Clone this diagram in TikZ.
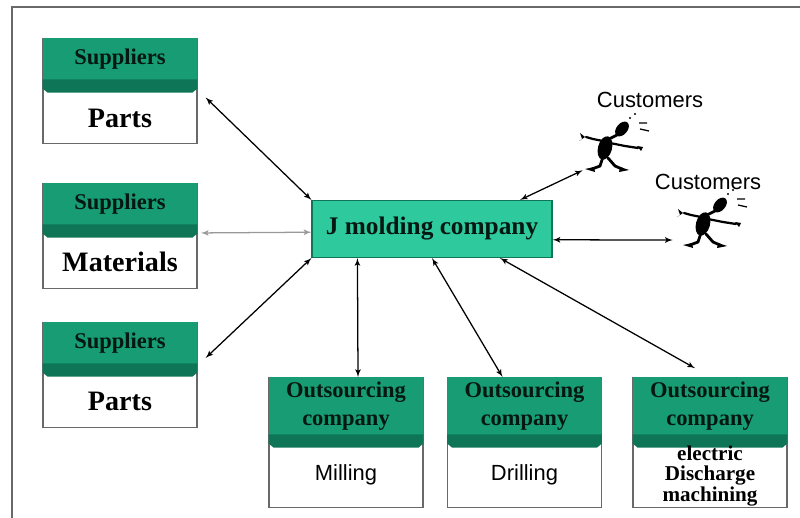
\documentclass[tikz,border=0pt]{standalone}
\usepackage{fontspec}
\setmainfont{Liberation Serif}
\setsansfont{Liberation Sans}
\usetikzlibrary{arrows,calc}

\definecolor{hdgreen}{RGB}{24,156,115}
\definecolor{bandgreen}{RGB}{14,118,86}
\definecolor{jgreen}{RGB}{46,202,158}
\definecolor{edgegray}{RGB}{105,105,105}

\tikzset{
  boxframe/.style={draw=edgegray, line width=0.9pt, fill=white, anchor=north, minimum width=3.85cm, inner sep=0pt},
  boxhead/.style={fill=hdgreen, anchor=north, minimum width=3.85cm, inner sep=0pt, align=center, text=black!85!hdgreen, font=\fontsize{16}{19.5}\selectfont\bfseries},
  bodytext/.style={align=center, font=\fontsize{20}{22}\selectfont\bfseries},
  sanstext/.style={font=\sffamily\fontsize{15.6}{18}\selectfont},
  link/.style={latex'-latex', line width=0.9pt},
  runner/.pic={
    \fill (15,-19) ellipse [x radius=5.5, y radius=8.5, rotate=-40];
    \fill (-2,0) ellipse [x radius=7, y radius=12, rotate=-15];
    \draw[line width=2pt, line cap=round] (2,-9) -- (10,-13);
    \draw[line width=1.6pt, line cap=round] (-4,-7) -- (-14,-9) -- (-21,-11);
    \fill (-22,-11) -- (-27,-15) -- (-25,-9) -- (-28,-7) -- cycle;
    \draw[line width=1.6pt, line cap=round] (3,-5) -- (18,-2) -- (31,0);
    \fill (30,-2) -- (36,-1) -- (34,3) -- cycle;
    \draw[line width=2pt, line cap=round] (-4,9) -- (-7,18) -- (-15,21);
    \fill (-13,19) -- (-22,21) -- (-12,24) -- cycle;
    \draw[line width=2pt, line cap=round] (1,10) -- (8,18) -- (15,21);
    \fill (13,19) -- (22,22) -- (12,24) -- cycle;
    \draw[line width=0.9pt] (32,-25) -- (40,-25) (33,-19) -- (42,-17);
    \fill (23,-30) circle [radius=1.2] (28,-34) circle [radius=1.2];
  }
}

% darker bevelled strip under a green header
\newcommand{\headband}[1]{%
  \fill[bandgreen] ([yshift=0.03cm]#1.south west) -- ([yshift=0.03cm]#1.south east)
    -- ([yshift=-0.2cm]#1.south east) -- ([shift={(-0.12cm,-0.3cm)}]#1.south east)
    -- ([shift={(0.12cm,-0.3cm)}]#1.south west) -- ([yshift=-0.2cm]#1.south west) -- cycle;}

\begin{document}
\begin{tikzpicture}[x=0.025cm, y=-0.025cm]
\useasboundingbox (0,0) rectangle (800,518);
\draw[edgegray, line width=1.2pt] (12,530) -- (12,7) -- (810,7);

% suppliers
\node[boxframe, minimum height=2.625cm] (s1) at (120,38) {};
\node[boxhead, minimum height=1.05cm] (s1h) at (120,38) {Suppliers};
\headband{s1h}
\node[bodytext] (s1t) at (120,118) {Parts};

\node[boxframe, minimum height=2.625cm] (s2) at (120,183) {};
\node[boxhead, minimum height=1.05cm] (s2h) at (120,183) {Suppliers};
\headband{s2h}
\node[bodytext] (s2t) at (120,262) {Materials};

\node[boxframe, minimum height=2.625cm] (s3) at (120,322) {};
\node[boxhead, minimum height=1.05cm] (s3h) at (120,322) {Suppliers};
\headband{s3h}
\node[bodytext] (s3t) at (120,401) {Parts};

% main company
\node[draw=bandgreen, line width=0.8pt, fill=jgreen, minimum width=6cm, minimum height=1.425cm,
      font=\fontsize{18}{20}\selectfont\bfseries, text=black!85!hdgreen] (J) at (432,229) {J molding company};

% outsourcing
\node[boxframe, minimum height=3.25cm] (o1) at (346,377) {};
\node[boxhead, minimum height=1.45cm] (o1h) at (346,377) {Outsourcing\\company};
\headband{o1h}
\node[sanstext] (o1t) at (346,475) {Milling};

\node[boxframe, minimum height=3.25cm] (o2) at (524.5,377) {};
\node[boxhead, minimum height=1.45cm] (o2h) at (524.5,377) {Outsourcing\\company};
\headband{o2h}
\node[sanstext] (o2t) at (524.5,475) {Drilling};

\node[boxframe, minimum height=3.25cm] (o3) at (710,377) {};
\node[boxhead, minimum height=1.45cm] (o3h) at (710,377) {Outsourcing\\company};
\headband{o3h}
\node[align=center, inner sep=0pt, font=\fontsize{15}{14.6}\selectfont\bfseries] (o3t) at (710,476) {electric\\Discharge\\machining};

% customers
\node[sanstext] (cl1) at (650,100) {Customers};
\node[minimum width=1.2cm, minimum height=1.1cm] (c1) at (607,148) {};
\pic at (c1) {runner};
\node[sanstext] (cl2) at (708,182) {Customers};
\node[minimum width=1.2cm, minimum height=1.1cm] (c2) at (705,224) {};
\pic at (c2) {runner};

% links
\draw[link] ([shift={(0.2cm,-0.16cm)}]s1.east) -- (J.north west);
\draw[link, black!40] ([shift={(0.08cm,0.08cm)}]s2.east) -- ([yshift=-0.08cm]J.west);
\draw[link] ([shift={(0.2cm,0.43cm)}]s3.east) -- (J.south west);
\draw[link] ([xshift=1.15cm]J.south west) -- ([xshift=0.3cm]o1h.north);
\draw[link] (J.south) -- ([xshift=-0.55cm]o2h.north);
\draw[link] ([xshift=1.7cm]J.south) -- ([shift={(-0.375cm,0.22cm)}]o3h.north);
\draw[link] ([xshift=2.2cm]J.north) -- (c1.south west);
\draw[link] ([yshift=-0.27cm]J.east) -- ([shift={(-0.2cm,-0.4cm)}]c2.west);
\end{tikzpicture}
\end{document}
